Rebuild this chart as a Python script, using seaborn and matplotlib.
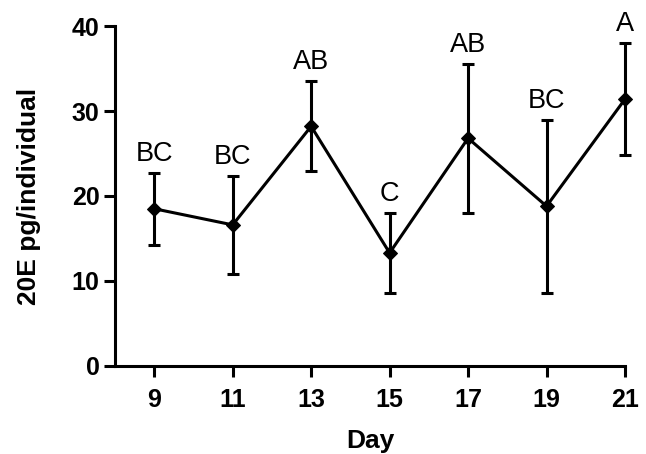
import matplotlib
matplotlib.use("Agg")
import matplotlib.pyplot as plt
import seaborn as sns
import pandas as pd

days = [9, 11, 13, 15, 17, 19, 21]
means = [18.5, 16.6, 28.2, 13.3, 26.8, 18.8, 31.4]
sds = [4.25, 5.8, 5.3, 4.7, 8.75, 10.2, 6.6]
letters = ["BC", "BC", "AB", "C", "AB", "BC", "A"]
x_ticks = [9, 11, 13, 15, 17, 19, 21]
y_ticks = [0, 10, 20, 30, 40]

df = pd.DataFrame({"Day": days, "mean": means, "sd": sds, "letter": letters})

sns.set_style("ticks", {"axes.edgecolor": "black", "text.color": "black",
                        "axes.labelcolor": "black", "xtick.color": "black",
                        "ytick.color": "black"})
plt.rcParams["font.family"] = ["Liberation Sans", "DejaVu Sans"]

fig = plt.figure(figsize=(6.46, 4.54), dpi=100)
ax = fig.add_axes([0.178, 0.194, 0.7895, 0.7486])

eb = ax.errorbar(df["Day"], df["mean"], yerr=df["sd"], fmt="none", ecolor="black",
                 elinewidth=2.2, capsize=4.6, capthick=2.2, zorder=2)
for art in eb.get_children():
    art.set_clip_on(False)
sns.lineplot(data=df, x="Day", y="mean", ax=ax, color="black", linewidth=2.2,
             marker="D", markersize=7, markeredgecolor="black", zorder=3,
             clip_on=False)

for d, m, s, l in zip(df["Day"], df["mean"], df["sd"], df["letter"]):
    ax.annotate(l, (d, m + s), xytext=(0, 8.5), textcoords="offset points",
                ha="center", va="baseline", fontsize=19.5, color="black")

ax.set_xlim(8, 21)
ax.set_ylim(0, 40)
ax.set_xticks(x_ticks)
ax.set_yticks(y_ticks)
ax.set_xticklabels([str(t) for t in x_ticks], fontweight="bold", fontsize=18)
ax.set_yticklabels([str(t) for t in y_ticks], fontweight="bold", fontsize=18)
ax.set_xlabel("Day", fontweight="bold", fontsize=19, labelpad=12, color="black")
ax.set_ylabel("20E pg/individual", fontweight="bold", fontsize=19, labelpad=22,
              color="black")

for side in ["top", "right"]:
    ax.spines[side].set_visible(False)
for side in ["left", "bottom"]:
    ax.spines[side].set_linewidth(2.2)
    ax.spines[side].set_color("black")
ax.tick_params(axis="both", width=2.2, length=8, color="black", labelcolor="black")
ax.tick_params(axis="x", pad=8)
ax.tick_params(axis="y", pad=3)

fig.savefig("out.png", dpi=100)
